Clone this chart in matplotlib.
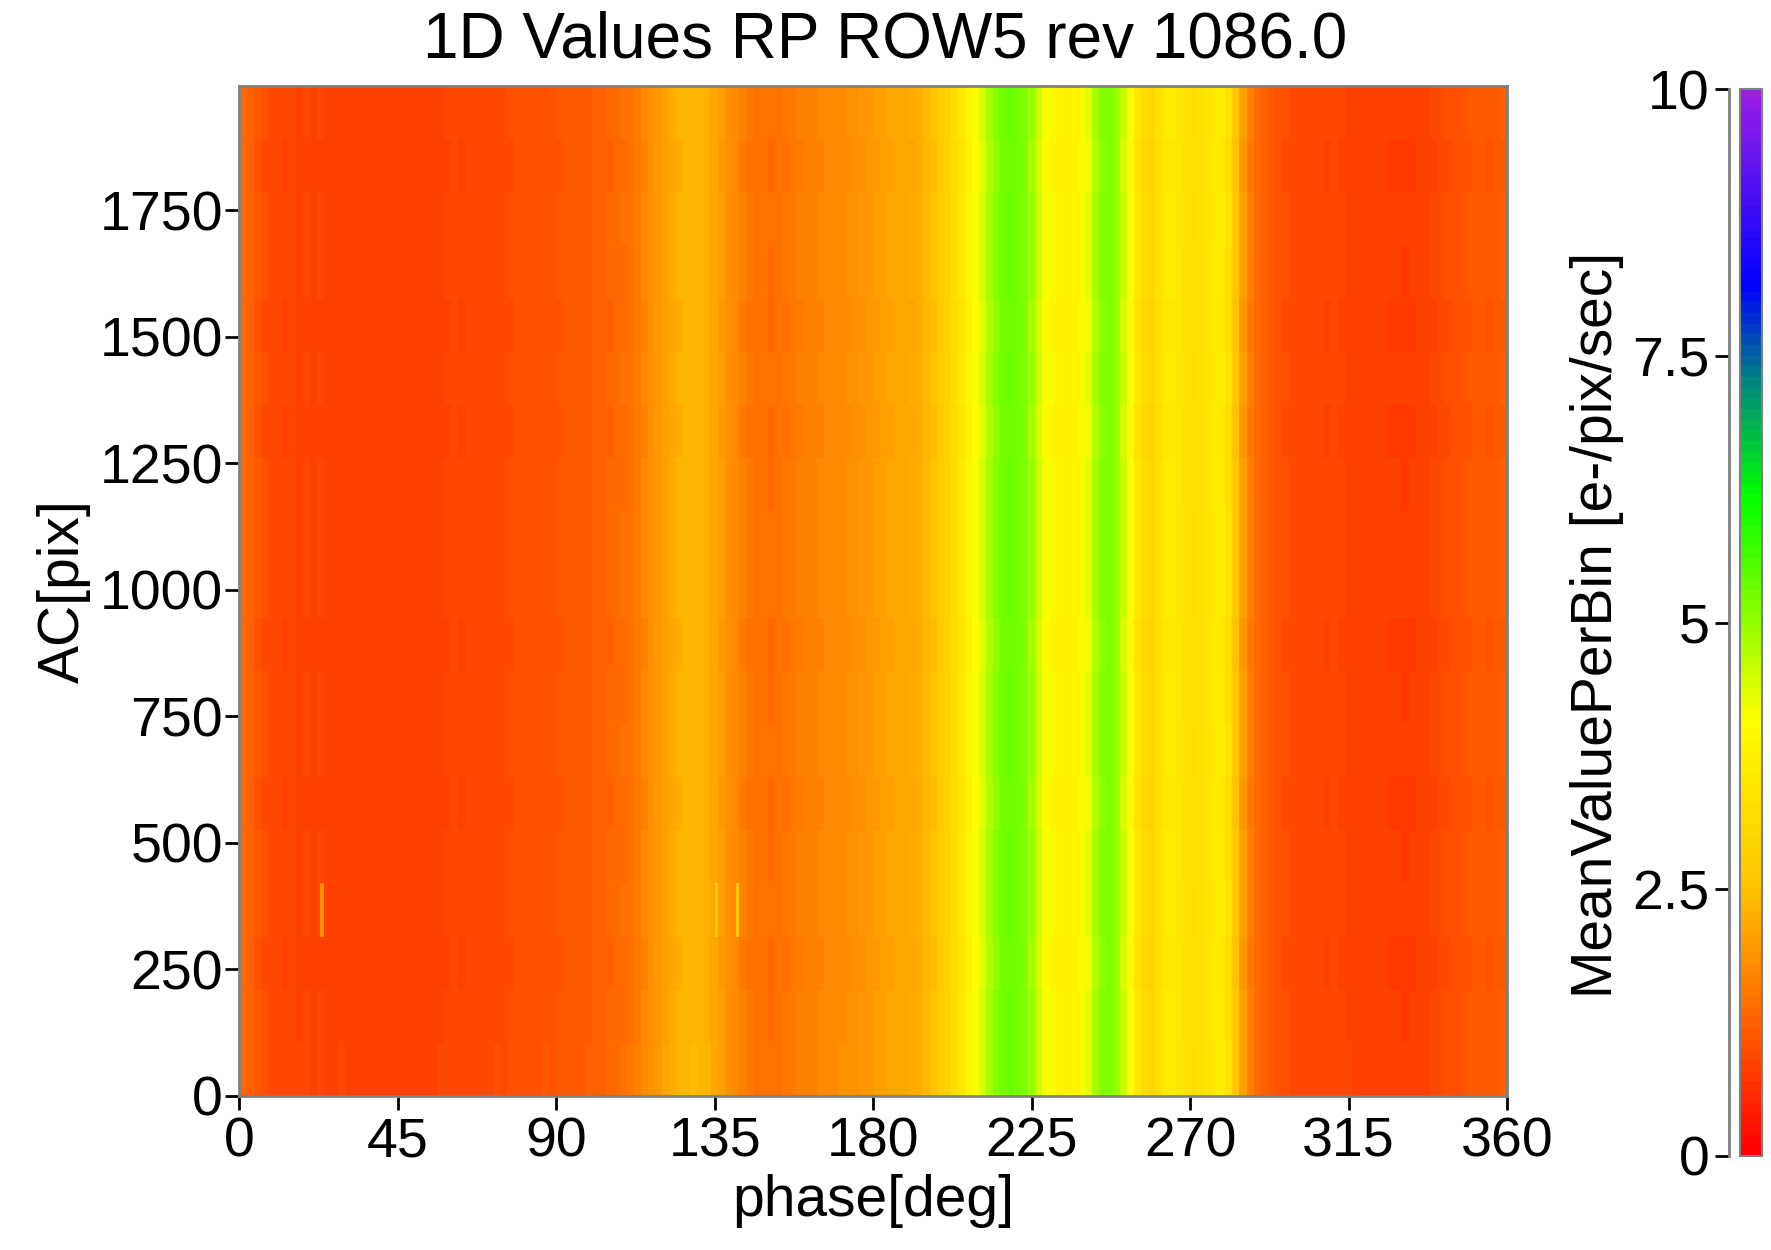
import numpy as np
import matplotlib
matplotlib.use("Agg")
import matplotlib.pyplot as plt
from matplotlib.colors import LinearSegmentedColormap

plt.rcParams['font.family'] = ['Liberation Sans', 'DejaVu Sans']

# mean value per 2-degree phase bin
phase_profile = [
    1.35, 1.25, 1.10, 1.00, 0.95, 0.95, 0.90, 0.92, 0.88, 0.90,
    0.87, 0.90, 0.86, 0.85, 0.88, 0.84, 0.86, 0.83, 0.85, 0.82,
    0.82, 0.84, 0.82, 0.85, 0.83, 0.86, 0.87, 0.85, 0.88, 0.90,
    0.92, 0.90, 0.94, 0.95, 0.93, 0.97, 0.98, 0.96, 1.00, 1.02,
    1.04, 1.03, 1.06, 1.08, 1.07, 1.10, 1.12, 1.11, 1.15, 1.18,
    1.22, 1.25, 1.30, 1.35, 1.40, 1.48, 1.58, 1.70, 1.82, 1.95,
    2.08, 2.20, 2.30, 2.35, 2.38, 2.35, 2.28, 2.15, 2.00, 1.85,
    1.72, 1.60, 1.50, 1.45, 1.42, 1.40, 1.45, 1.50, 1.55, 1.60,
    1.62, 1.65, 1.70, 1.72, 1.75, 1.78, 1.80, 1.85, 1.90, 1.95,
    2.00, 2.05, 2.10, 2.12, 2.15, 2.20, 2.25, 2.35, 2.50, 2.70,
    2.95, 3.20, 3.50, 3.80, 4.10, 4.40, 4.80, 5.10, 5.25, 5.30,
    5.25, 5.15, 4.90, 4.50, 4.10, 3.90, 3.80, 3.75, 3.80, 3.95,
    4.30, 4.80, 5.10, 5.15, 4.95, 4.50, 4.00, 3.40, 3.10, 3.00,
    3.20, 3.50, 3.60, 3.45, 3.30, 3.25, 3.30, 3.45, 3.55, 3.60,
    3.30, 2.60, 2.00, 1.60, 1.35, 1.25, 1.15, 1.05, 1.00, 0.97,
    0.95, 0.93, 0.94, 0.92, 0.90, 0.91, 0.90, 0.88, 0.87, 0.86,
    0.85, 0.83, 0.82, 0.80, 0.80, 0.79, 0.80, 0.82, 0.85, 0.90,
    0.95, 1.00, 1.02, 1.05, 1.10, 1.15, 1.12, 1.10, 1.12, 1.20,
]

# small shift of each AC row (19 rows of 105 pix)
row_offsets = [0.02, 0.00, -0.01, 0.01, 0.00, -0.01, 0.01, 0.00, -0.01, 0.01,
               0.01, 0.00, -0.01, 0.01, -0.01, 0.00, 0.01, -0.01, 0.01]
ac_bin = 105

# isolated hot bins: (row, phase degree, value)
spike_rows = [3, 3, 3]
spike_phases = [23, 135, 141]
spike_values = [1.85, 2.9, 2.6]

# colour palette nodes (value, colour)
cmap_values = [0.0, 1.6, 2.5, 4.1, 6.2, 7.3, 8.2, 10.0]
cmap_colors = ['#ff0000', '#ff8000', '#ffc300', '#ffff00', '#00ff00',
               '#008282', '#0000ff', '#9a1ee6']

cmap = LinearSegmentedColormap.from_list(
    'pal', [(v / 10.0, c) for v, c in zip(cmap_values, cmap_colors)], N=100)

profile = np.repeat(np.array(phase_profile), 2)
grid = profile[None, :] + np.array(row_offsets)[:, None]
for r, p, v in zip(spike_rows, spike_phases, spike_values):
    grid[r, p] = v

x_edges = np.arange(0, 361)
y_edges = np.arange(len(row_offsets) + 1) * ac_bin

fig = plt.figure(figsize=(17.71, 12.5), dpi=100)
ax = fig.add_axes([0.1352, 0.1232, 0.7158, 0.808])
mesh = ax.pcolormesh(x_edges, y_edges, grid, cmap=cmap, vmin=0, vmax=10, shading='flat')
ax.set_xlim(0, 360)
ax.set_ylim(0, y_edges[-1])
ax.set_xticks(range(0, 361, 45))
ax.set_yticks(range(0, 1751, 250))
ax.tick_params(labelsize=40, length=10, width=2, color='black', pad=5)
ax.tick_params(axis='y', pad=2)
for s in ax.spines.values():
    s.set_color('#808080')
    s.set_linewidth(2)
ax.set_xlabel('phase[deg]', fontsize=41, labelpad=4)
ax.set_ylabel('AC[pix]', fontsize=41, labelpad=6)
fig.text(0.5, 0.968, '1D Values RP ROW5 rev 1086.0', fontsize=46,
         ha='center', va='center')

# colour bar with its axis drawn slightly left of the bar
cax = fig.add_axes([0.9825, 0.0752, 0.0124, 0.8536])
cb = fig.colorbar(mesh, cax=cax)
cb.set_ticks([])
cb.outline.set_edgecolor('#808080')
cb.outline.set_linewidth(1.5)

lax = fig.add_axes([0.9762, 0.0752, 0.001, 0.8536])
lax.set_ylim(0, 10)
lax.set_xticks([])
lax.set_yticks([0, 2.5, 5, 7.5, 10])
lax.set_yticklabels(['0', '2.5', '5', '7.5', '10'])
lax.tick_params(axis='y', labelsize=40, length=10, width=2, pad=4)
for name, s in lax.spines.items():
    s.set_visible(name == 'left')
lax.spines['left'].set_color('#808080')
lax.spines['left'].set_linewidth(2)
lax.patch.set_visible(False)
fig.text(0.902, 0.5, 'MeanValuePerBin [e-/pix/sec]', fontsize=41,
         rotation=90, ha='center', va='center')

fig.savefig('out.png', dpi=100)
